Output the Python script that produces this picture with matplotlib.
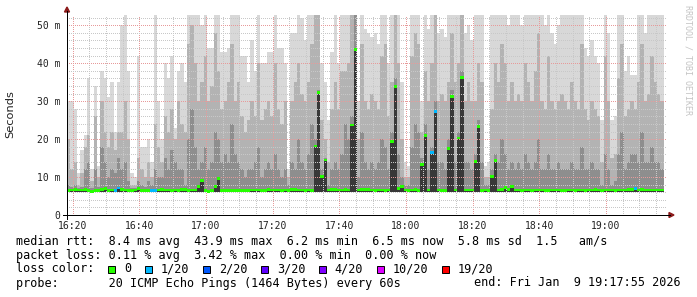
import numpy as np
import pandas as pd
import matplotlib
matplotlib.use('Agg')
import matplotlib.pyplot as plt
import matplotlib.dates as mdates
from matplotlib.ticker import MultipleLocator, FuncFormatter
from matplotlib.lines import Line2D
from matplotlib.patches import Polygon, Rectangle

W, H = 697, 297

# one column per 60 s step, all values in ms
start = '2026-01-09 16:18:18'

smoke_top = [30, 30, 28, 11, 17, 21, 36, 12, 34, 13,
             38, 36, 31, 35, 22, 35, 50, 53, 38, 11,
             10, 42, 18, 18, 20, 14, 53, 30, 20, 40,
             36, 42, 23, 38, 40, 35, 53, 53, 53, 53,
             50, 53, 44, 44, 53, 53, 43, 43, 44, 53,
             53, 53, 42, 42, 35, 46, 38, 53, 40, 40,
             43, 43, 53, 44, 44, 40, 12, 48, 48, 53,
             52, 46, 53, 53, 53, 53, 40, 35, 25, 43,
             53, 40, 53, 53, 53, 53, 53, 30, 53, 49,
             48, 47, 48, 45, 53, 53, 40, 53, 53, 53,
             35, 14, 13, 53, 53, 53, 30, 53, 49, 53,
             53, 48, 49, 47, 53, 53, 53, 53, 53, 48,
             50, 46, 53, 53, 53, 13, 14, 53, 53, 53,
             53, 53, 50, 53, 53, 53, 50, 53, 53, 53,
             53, 53, 53, 50, 53, 48, 45, 50, 53, 53,
             53, 53, 53, 53, 53, 44, 42, 46, 42, 40,
             25, 53, 48, 25, 26, 53, 53, 38, 42, 37,
             37, 53, 53, 48, 53, 53, 53, 53, 53]

smoke_mid = [20, 12, 14, 8, 11, 18, 21, 9, 26, 10,
             30, 22, 18, 22, 17, 22, 22, 30, 20, 8,
             8, 15, 12, 10, 14, 10, 24, 18, 14, 26,
             22, 28, 20, 30, 24, 22, 45, 50, 40, 30,
             35, 42, 30, 34, 48, 38, 28, 30, 35, 45,
             30, 35, 26, 22, 25, 30, 26, 40, 25, 28,
             30, 26, 40, 28, 24, 30, 10, 30, 35, 40,
             32, 30, 35, 45, 53, 53, 25, 20, 14, 28,
             35, 28, 38, 38, 40, 53, 53, 20, 45, 30,
             28, 32, 30, 28, 42, 45, 26, 35, 53, 40,
             20, 10, 10, 42, 48, 45, 22, 38, 30, 40,
             53, 30, 32, 30, 35, 48, 35, 40, 53, 30,
             35, 30, 30, 40, 35, 10, 10, 28, 40, 35,
             45, 40, 30, 35, 30, 32, 30, 40, 35, 30,
             38, 48, 30, 28, 42, 30, 28, 30, 32, 30,
             28, 35, 30, 28, 45, 28, 25, 30, 28, 26,
             14, 42, 30, 15, 16, 36, 45, 26, 28, 30,
             28, 35, 45, 30, 32, 42, 35, 32, 30]

smoke_low = [8, 7.5, 8, 7, 7.5, 12, 14, 7, 12, 7.5,
             18, 14, 10, 12, 11, 15, 12, 14, 9, 7,
             7, 9, 8, 7.5, 9, 8, 12, 10, 10, 15,
             12, 17, 14, 12, 12, 8, 20, 28, 18, 12,
             14, 18, 12, 14, 22, 20, 14, 16, 14, 24,
             16, 14, 12, 10, 12, 12, 14, 18, 10, 12,
             14, 12, 16, 12, 10, 12, 8, 14, 12, 20,
             14, 12, 16, 24, 20, 33, 12, 15, 8, 12,
             14, 12, 16, 24, 20, 26, 53, 10, 22, 14,
             12, 14, 12, 14, 20, 18, 12, 22, 36, 16,
             10, 8, 8, 18, 24, 22, 15, 24, 12, 18,
             30, 14, 14, 12, 20, 33, 14, 22, 38, 14,
             14, 12, 16, 25, 14, 8, 8, 12, 16, 14,
             20, 16, 12, 14, 12, 14, 12, 16, 14, 12,
             14, 20, 12, 12, 16, 12, 12, 14, 12, 12,
             12, 14, 12, 12, 18, 12, 12, 14, 12, 12,
             8, 16, 12, 8, 9, 16, 22, 12, 14, 16,
             16, 14, 22, 14, 14, 18, 14, 14, 12]

median_rtt = [6.5, 6.6, 6.7, 6.6, 6.6, 6.7, 6.5, 6.3, 6.5, 6.4,
              6.8, 6.9, 6.5, 6.6, 6.5, 7.1, 6.8, 6.6, 6.5, 6.5,
              6.6, 6.9, 6.5, 6.5, 6.4, 6.4, 6.5, 6.6, 6.7, 6.6,
              6.6, 6.5, 6.6, 6.5, 6.8, 6.7, 6.4, 6.6, 6.6, 7.6,
              9.2, 6.5, 6.3, 6.5, 7.6, 9.6, 6.5, 6.4, 6.5, 6.4,
              6.5, 6.4, 6.5, 6.5, 6.5, 6.6, 6.6, 6.6, 6.5, 6.5,
              6.7, 6.6, 6.6, 6.6, 6.5, 6.6, 6.5, 6.7, 6.7, 6.6,
              6.6, 6.5, 6.6, 6.5, 18.2, 32.2, 10.2, 14.5, 6.6, 6.8,
              6.7, 6.6, 6.6, 6.7, 6.6, 23.7, 43.7, 6.6, 6.7, 6.8,
              6.7, 6.6, 6.5, 6.6, 6.6, 6.5, 6.6, 19.3, 33.8, 7.0,
              7.5, 6.6, 6.5, 6.6, 6.8, 6.5, 13.2, 21.0, 6.6, 16.4,
              27.3, 6.6, 6.5, 6.5, 17.5, 31.3, 6.6, 20.3, 36.2, 6.6,
              6.6, 6.6, 14.1, 23.4, 6.5, 6.6, 6.5, 10.1, 14.3, 6.6,
              6.8, 7.2, 6.7, 7.6, 6.6, 6.6, 6.5, 6.6, 6.6, 6.5,
              6.6, 6.6, 6.6, 6.5, 6.5, 6.6, 6.6, 6.6, 6.5, 6.5,
              6.6, 6.6, 6.5, 6.6, 6.6, 6.5, 6.6, 6.6, 6.7, 6.6,
              6.5, 6.6, 6.6, 6.6, 6.5, 6.6, 6.6, 6.6, 6.7, 6.8,
              6.9, 6.6, 6.7, 6.6, 6.6, 6.6, 6.6, 6.6, 6.6]

min_rtt = 6.0

loss_cols = [14, 15, 25, 26, 109, 110, 170]
loss_count = [1, 1, 1, 1, 1, 1, 1]

loss_levels = [0, 1, 2, 3, 4, 10, 19]
loss_labels = ['0', '1/20', '2/20', '3/20', '4/20', '10/20', '19/20']
loss_colors = ['#26ff00', '#00b8ff', '#0059ff', '#5e00ff', '#7e00ff', '#dd00ff', '#ff0000']

rtt_line = 'median rtt:  8.4 ms avg  43.9 ms max  6.2 ms min  6.5 ms now  5.8 ms sd  1.5   am/s'
loss_line = 'packet loss: 0.11 % avg  3.42 % max  0.00 % min  0.00 % now'
probe_line = 'probe:       20 ICMP Echo Pings (1464 Bytes) every 60s'
end_line = 'end: Fri Jan  9 19:17:55 2026'


def px(x, y):
    return x / W, 1 - y / H


def main():
    plt.rcParams['font.family'] = 'DejaVu Sans Mono'
    fig = plt.figure(figsize=(W / 100, H / 100), dpi=100)
    fig.patch.set_facecolor('white')
    ax = fig.add_axes([67 / W, 1 - 215 / H, 600 / W, 200 / H])

    times = pd.date_range(start, periods=len(smoke_top), freq='min')
    x = mdates.date2num(times)
    step = 1 / 1440.0

    # smoke, lightest first
    for vals, col in [(smoke_top, '#d8d8d8'), (smoke_mid, '#b3b3b3'),
                      (smoke_low, '#8e8e8e'), (median_rtt, '#383838')]:
        v = np.array(vals, dtype=float)
        ax.bar(x, v - min_rtt, bottom=min_rtt, width=step, align='edge',
               color=col, linewidth=0, antialiased=False, zorder=1)

    # median marker coloured by loss
    lvl_color = dict(zip(loss_levels, loss_colors))
    colors = [lvl_color[0]] * len(median_rtt)
    for c, n in zip(loss_cols, loss_count):
        colors[c] = lvl_color[n]
    med = np.array(median_rtt)
    ax.bar(x, 0.75, bottom=med - 0.375, width=step, align='edge',
           color=colors, linewidth=0, antialiased=False, zorder=3)

    t0 = mdates.date2num(pd.Timestamp(start))
    ax.set_xlim(t0, t0 + 180 * step)
    ax.set_ylim(0, 52.7)

    ax.xaxis.set_major_locator(mdates.MinuteLocator(byminute=[0, 20, 40]))
    ax.xaxis.set_minor_locator(mdates.MinuteLocator(byminute=range(0, 60, 5)))
    ax.xaxis.set_major_formatter(mdates.DateFormatter('%H:%M'))
    ax.yaxis.set_major_locator(MultipleLocator(10))
    ax.yaxis.set_minor_locator(MultipleLocator(2))
    ax.yaxis.set_major_formatter(FuncFormatter(lambda v, p: '0' if v == 0 else '%d m' % v))

    ax.set_axisbelow(False)
    ax.grid(which='major', color='#e79a9a', lw=0.72, ls=(0, (1, 1.6)), antialiased=False)
    ax.grid(which='minor', color='#c8c8c8', lw=0.72, ls=(0, (1, 1.6)), antialiased=False)
    ax.tick_params(which='both', length=0, labelsize=7, colors='#222222')
    ax.tick_params(axis='x', pad=4)
    ax.tick_params(axis='y', pad=5)
    for s in ax.spines.values():
        s.set_visible(False)

    # axis lines with arrows
    fig.add_artist(Line2D([63 / W, 670 / W], [1 - 215 / H] * 2, color='black', lw=0.72))
    fig.add_artist(Line2D([67 / W] * 2, [1 - 219 / H, 1 - 11 / H], color='black', lw=0.72))
    fig.add_artist(Polygon([px(669, 212.5), px(674, 215), px(669, 217.5)],
                           closed=True, color='#8b1a1a', transform=fig.transFigure))
    fig.add_artist(Polygon([px(64.5, 12), px(67, 7), px(69.5, 12)],
                           closed=True, color='#8b1a1a', transform=fig.transFigure))

    fig.text(*px(10, 114), 'Seconds', rotation=90, ha='center', va='center',
             fontsize=8.2, family='DejaVu Sans', color='#222222')
    fig.text(*px(688, 60), 'RRDTOOL / TOBI OETIKER', rotation=270, ha='center',
             va='center', fontsize=6, color='#c4c4c4')

    fs = 8.45
    fig.text(*px(16, 241), rtt_line, va='center', fontsize=fs)
    fig.text(*px(16, 255), loss_line, va='center', fontsize=fs)
    fig.text(*px(16, 269), 'loss color:', va='center', fontsize=fs)
    fig.text(*px(16, 283), probe_line, va='center', fontsize=fs)
    fig.text(*px(681, 283), end_line, va='center', ha='right', fontsize=fs)

    bx = 108.3
    for lab, col in zip(loss_labels, loss_colors):
        fig.add_artist(Rectangle(px(bx, 272.5), 7 / W, 7 / H, facecolor=col,
                                 edgecolor='black', lw=0.7, transform=fig.transFigure))
        fig.text(*px(bx + 15.7, 269), lab, va='center', fontsize=fs)
        bx += 29.7 + len(lab) * 7.07

    fig.savefig('out.png', dpi=100)


if __name__ == '__main__':
    main()
